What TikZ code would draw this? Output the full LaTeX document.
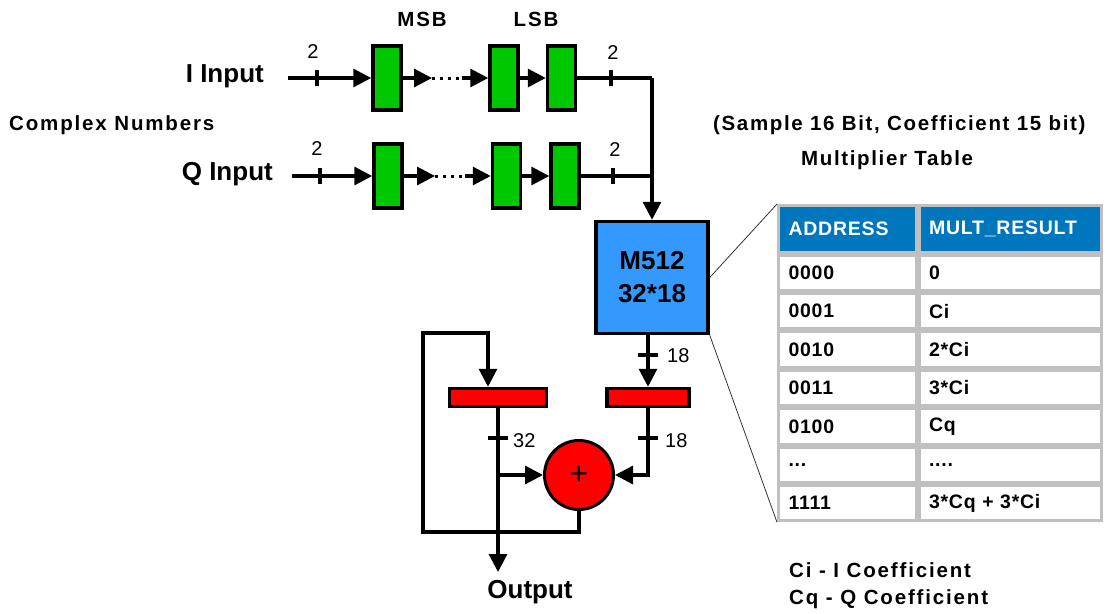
\documentclass[tikz,border=0pt]{standalone}
\usepackage{fontspec}
\setmainfont{Liberation Sans}
\newfontfamily\spacedfont[LetterSpace=9]{Liberation Sans}
\newfontfamily\tablefont[LetterSpace=4]{Liberation Sans}
\usetikzlibrary{arrows.meta}
\definecolor{regGreen}{RGB}{0,200,0}
\definecolor{multBlue}{RGB}{51,153,255}
\definecolor{headBlue}{RGB}{0,118,188}
\definecolor{gridGray}{RGB}{192,192,192}
\begin{document}
\begin{tikzpicture}[x=1pt,y=-1pt,
	wire/.style={line width=3.2pt},
	arr/.style={line width=3.2pt,-{Triangle[length=18pt,width=18pt]}},
	dots/.style={line width=3pt,dash pattern=on 3pt off 5pt},
	reg/.style={draw,line width=3.5pt,fill=regGreen,minimum width=28pt,minimum height=64pt,inner sep=0pt},
	bar/.style={draw,line width=3.5pt,fill=red,minimum height=18pt,inner sep=0pt},
	big/.style={font=\bfseries\fontsize{26}{33}\selectfont,inner sep=0pt},
	small/.style={font=\spacedfont\bfseries\fontsize{20.5}{24}\selectfont,inner sep=0pt},
	num/.style={font=\fontsize{20}{22}\selectfont,inner sep=0pt},
	cellA/.style={draw=gridGray,line width=3pt,minimum height=35.4pt,inner xsep=10pt,text width=117.5pt,align=left,font=\tablefont\bfseries\fontsize{19.5}{22}\selectfont},
	cellB/.style={cellA,text width=162.5pt},
	head/.style={fill=headBlue,text=white,minimum height=46.5pt}]
	\useasboundingbox (0,0) rectangle (1105,613);
	% labels
	\node[small,anchor=base west] (cplx) at (9,130) {Complex Numbers};
	\node[small,anchor=base] (msb) at (422,27) {MSB};
	\node[small,anchor=base] (lsb) at (536,27) {LSB};
	\node[big,anchor=base east] (Ilab) at (264,82) {I Input};
	\node[big,anchor=base east] (Qlab) at (273,180) {Q Input};
	\node[big,anchor=base] (outlab) at (530,598) {Output};
	\node[small,anchor=base west,font=\addfontfeature{LetterSpace=8}\bfseries\fontsize{20.5}{24}\selectfont] (sample) at (713,130) {(Sample 16 Bit, Coefficient 15 bit)};
	\node[small,anchor=base west,font=\addfontfeature{LetterSpace=8}\bfseries\fontsize{20.5}{24}\selectfont] (mtab) at (801,165) {Multiplier Table};
	\node[small,anchor=base west] (ci) at (789,577) {Ci - I Coefficient};
	\node[small,anchor=base west] (cq) at (789,604) {Cq - Q Coefficient};
	% shift registers
	\node[reg] (I1) at (387,78) {};
	\node[reg] (I2) at (504,78) {};
	\node[reg] (I3) at (561.5,78) {};
	\node[reg] (Q1) at (388,176) {};
	\node[reg] (Q2) at (506.5,176) {};
	\node[reg] (Q3) at (565,176) {};
	\coordinate (iin) at (288,78);
	\coordinate (qin) at (292,176);
	\coordinate (idA) at (432,78);
	\coordinate (idB) at (462,78);
	\coordinate (qdA) at (435,176);
	\coordinate (qdB) at (465,176);
	\coordinate (ijoin) at (652,78);
	\coordinate (qjoin) at (652,176);
	% multiplier, registers, adder
	\node[draw,line width=3.5pt,fill=multBlue,minimum size=112pt,inner sep=0pt,align=center,font=\bfseries\fontsize{26}{33}\selectfont] (mult) at (652,277.5) {M512\\32*18};
	\node[bar,minimum width=97pt] (regA) at (498,397.5) {};
	\node[bar,minimum width=82pt] (regB) at (648,397.5) {};
	\node[circle,draw,line width=3pt,fill=red,minimum size=69pt,inner sep=0pt,font=\fontsize{32}{34}\selectfont] (add) at (579,475) {+};
	\coordinate (fb1) at (579,532);
	\coordinate (fb2) at (423,532);
	\coordinate (fb3) at (423,333);
	\coordinate (fb4) at (488,333);
	\coordinate (br) at (498,475);
	\coordinate (bc) at (648,475);
	\coordinate (outp) at (498,572);
	% bit widths
	\node[num,anchor=base] (nI1) at (313,58) {2};
	\node[num,anchor=base] (nI2) at (613,59) {2};
	\node[num,anchor=base] (nQ1) at (317,155) {2};
	\node[num,anchor=base] (nQ2) at (615,156) {2};
	\node[num,anchor=base west] (nM) at (667,362) {18};
	\node[num,anchor=base west] (nA) at (513,447) {32};
	\node[num,anchor=base west] (nB) at (665,447) {18};
	% table
	\node[cellA,head] (h1) at (847.25,228.75) {ADDRESS};
	\node[cellB,head] (h2) at (1010.25,228.75) {MULT\_RESULT};
	\node[cellA] (a0) at (847.25,272.7) {0000};
	\node[cellB] (r0) at (1010.25,272.7) {0};
	\node[cellA] (a1) at (847.25,311.1) {0001};
	\node[cellB] (r1) at (1010.25,311.1) {Ci};
	\node[cellA] (a2) at (847.25,349.5) {0010};
	\node[cellB] (r2) at (1010.25,349.5) {2*Ci};
	\node[cellA] (a3) at (847.25,387.9) {0011};
	\node[cellB] (r3) at (1010.25,387.9) {3*Ci};
	\node[cellA] (a4) at (847.25,426.3) {0100};
	\node[cellB] (r4) at (1010.25,426.3) {Cq};
	\node[cellA] (a5) at (847.25,464.7) {...};
	\node[cellB] (r5) at (1010.25,464.7) {....};
	\node[cellA] (a6) at (847.25,503.1) {1111};
	\node[cellB] (r6) at (1010.25,503.1) {3*Cq + 3*Ci};
	% connections
	\draw[arr] (iin) -- (I1);
	\draw[arr] (I1) -- (idA);
	\draw[dots] (idA) -- (idB);
	\draw[arr] (idB) -- (I2);
	\draw[arr] (I2) -- (I3);
	\draw[wire] (I3) -- (ijoin);
	\draw[arr] (qin) -- (Q1);
	\draw[arr] (Q1) -- (qdA);
	\draw[dots] (qdA) -- (qdB);
	\draw[arr] (qdB) -- (Q2);
	\draw[arr] (Q2) -- (Q3);
	\draw[wire] (Q3) -- (qjoin);
	\draw[arr] (ijoin) -- (mult.north);
	\draw[arr] (regB.north |- mult.south) -- (regB.north);
	\draw[arr] (add.south) -- (fb1) -- (fb2) -- (fb3) -- (fb4) -- (fb4 |- regA.north);
	\draw[arr] (regA.south) -- (outp);
	\draw[arr] (br) -- (add.west);
	\draw[arr] (regB.south) -- (bc) -- (add.east);
	% bit width ticks
	\draw[wire] (317,70) -- (317,86);
	\draw[wire] (611,70) -- (611,86);
	\draw[wire] (320,168) -- (320,184);
	\draw[wire] (613,168) -- (613,184);
	\draw[wire] (638,355) -- (658,355);
	\draw[wire] (488,438) -- (508,438);
	\draw[wire] (638,438) -- (658,438);
	% zoom lines
	\draw[line width=0.8pt,black!80] (mult.east) -- (h1.north west);
	\draw[line width=0.8pt,black!80] (mult.south east) -- (a6.south west);
\end{tikzpicture}
\end{document}
